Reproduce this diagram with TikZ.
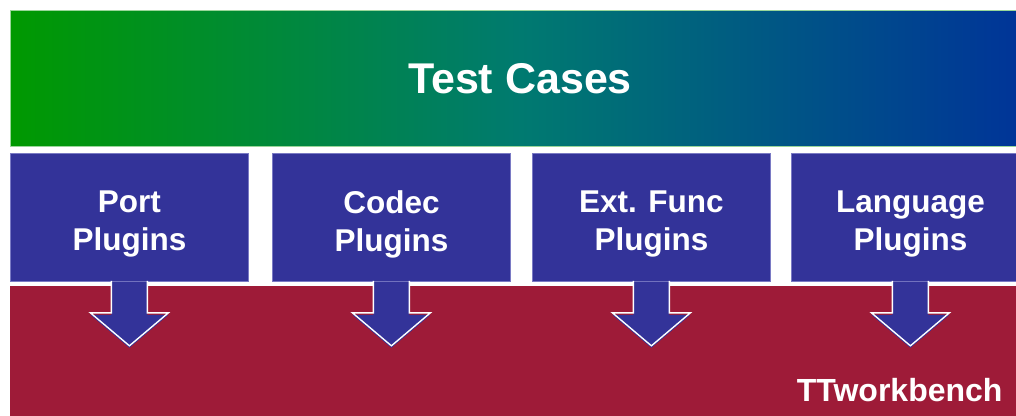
\documentclass[tikz,border=0pt]{standalone}
\usepackage{fontspec}
\setmainfont{Liberation Sans}
\definecolor{tgreen}{HTML}{009900}
\definecolor{tmid}{HTML}{007A70}
\definecolor{tblue}{HTML}{003399}
\definecolor{pblue}{HTML}{333399}
\definecolor{pedge}{HTML}{7A7AC4}
\definecolor{tred}{HTML}{9E1B38}
\tikzset{
  plugbox/.style={fill=pblue, draw=pedge, line width=0.8pt, minimum width=238pt, minimum height=128pt, anchor=north west, inner sep=0pt},
  plugtext/.style={text=white, font=\fontsize{31.5}{38}\selectfont\bfseries, align=center},
  arrowfill/.style={fill=pblue},
  arrowedge/.style={draw=white, line width=1.4pt, line join=miter}
}
\begin{document}
\begin{tikzpicture}[x=1pt,y=-1pt]
\useasboundingbox (0,0) rectangle (1016,415);
\clip (0,0) rectangle (1016,415);
% top bar
\node[anchor=north west, inner sep=0pt, minimum width=1020pt, minimum height=136pt,
      left color=tgreen, right color=tblue, middle color=tmid, draw=white!60!tgreen, line width=0.6pt] (tc) at (10,10) {};
\node[text=white, font=\fontsize{43}{48}\selectfont\bfseries] (tct) at (520,79) {Test Cases};
% bottom bar
\node[anchor=north west, inner sep=0pt, minimum width=1020pt, minimum height=140pt, fill=tred] (tw) at (10,286) {};
\node[text=white, font=\fontsize{32}{36}\selectfont\bfseries, anchor=east] (twt) at (1006,390) {TTworkbench};
% plugin boxes
\node[plugbox] (p1) at (10,153) {};
\node[plugbox] (p2) at (272,153) {};
\node[plugbox] (p3) at (532,153) {};
\node[plugbox] (p4) at (791,153) {};
\node[plugtext] (t1) at ([yshift=-7pt]p1.center) {Port\\Plugins};
\node[plugtext] (t2) at ([yshift=-7pt]p2.center) {Codec\\Plugins};
\node[plugtext] (t3) at ([yshift=-7pt]p3.center) {Ext. Func\\Plugins};
\node[plugtext] (t4) at ([yshift=-7pt]p4.center) {Language\\Plugins};
% arrows
\foreach \b in {p1,p2,p3,p4}{
  \fill[arrowfill] ([xshift=-18pt]\b.south) -- ++(0,33) -- ++(-21,0) -- ++(39,33) -- ++(39,-33) -- ++(-21,0) -- ++(0,-33) -- cycle;
  \draw[arrowedge] ([xshift=-18pt,yshift=1pt]\b.south) -- ++(0,32) -- ++(-21,0) -- ++(39,33) -- ++(39,-33) -- ++(-21,0) -- ++(0,-32);
}
\end{tikzpicture}
\end{document}
